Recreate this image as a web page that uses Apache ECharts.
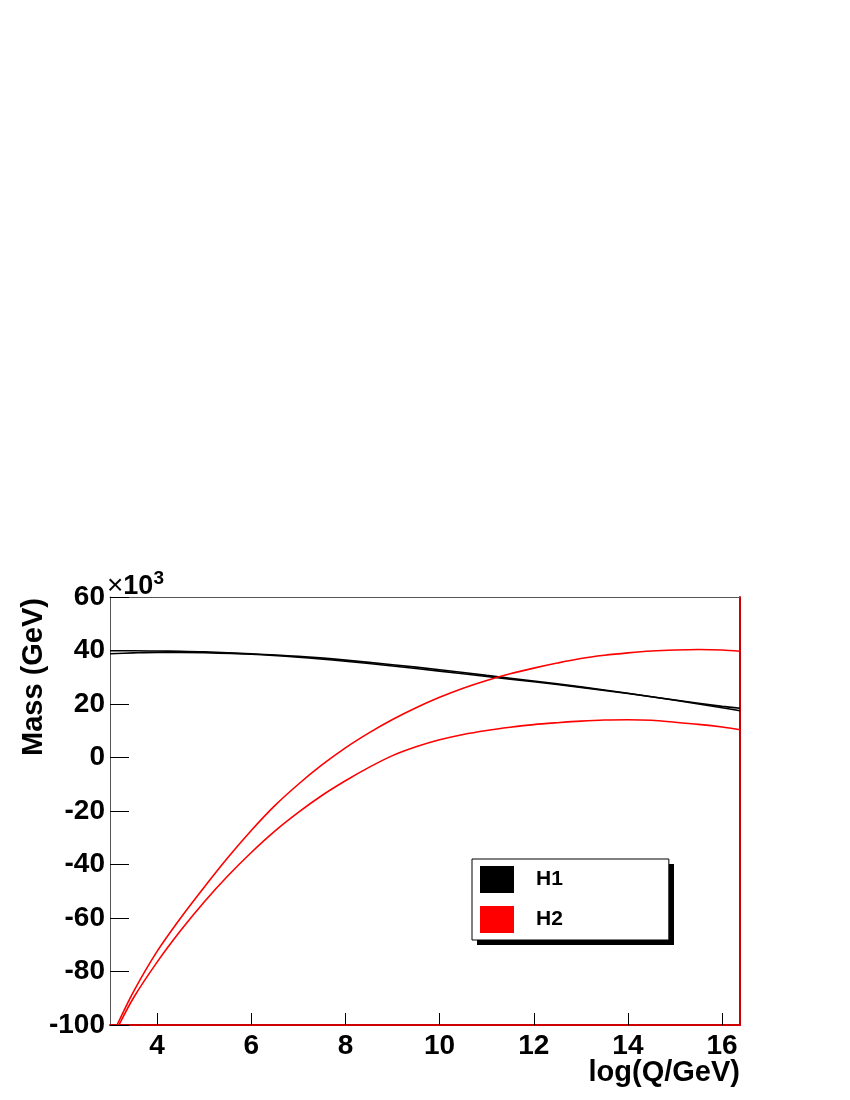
<!DOCTYPE html>
<html lang="en">

<head>
    <meta charset="UTF-8">
    <script src="https://cdn.jsdelivr.net/npm/echarts@6/dist/echarts.min.js"></script>
    <title>Mass vs log(Q/GeV)</title>
    <style>
        html,
        body {
            margin: 0;
            width: 100%;
            height: 100%;
            background: #fff;
        }
    </style>
</head>

<body>
    <div id="chart" style="width: 850px;height: 1100px;"></div>
    <script>
        // values, in units of 10^3 GeV
        var h1a = [[3.0, 39.9], [3.5, 39.9], [4, 39.8], [4.5, 39.7], [5, 39.5], [6, 38.8], [7, 37.8], [8, 36.4],
            [9, 34.7], [10, 32.8], [11, 30.7], [12, 28.6], [13, 26.4], [14, 24.0], [15, 21.4], [16, 18.6], [16.38, 17.5]];
        var h1b = [[3.0, 38.8], [3.5, 39.1], [4, 39.3], [4.5, 39.3], [5, 39.2], [6, 38.6], [7, 37.5], [8, 36.0],
            [9, 34.2], [10, 32.3], [11, 30.3], [12, 28.3], [13, 26.2], [14, 23.9], [15, 21.5], [16, 19.1], [16.38, 18.4]];
        var h2a = [[3.15, -100], [3.5, -87.5], [4.0, -72.5], [4.5, -60], [5.0, -48.5], [5.5, -37.5], [6.0, -27.3],
            [6.5, -18.0], [7.0, -10.0], [7.5, -2.8], [8.0, 3.6], [8.5, 9.2], [9.0, 14.2], [9.5, 18.6], [10.0, 22.5],
            [10.5, 25.9], [11.0, 28.8], [11.5, 31.3], [12.0, 33.4], [12.5, 35.3], [13.0, 37.0], [13.5, 38.2],
            [14.0, 39.1], [14.5, 39.8], [15.0, 40.2], [15.5, 40.4], [16.0, 40.2], [16.38, 39.7]];
        var h2b = [[3.19, -100], [3.5, -89.8], [4.0, -76.5], [4.5, -64.7], [5.0, -54], [5.5, -44.3], [6.0, -35.5],
            [6.5, -27.5], [7.0, -20.5], [7.5, -14.2], [8.0, -8.7], [8.5, -3.7], [9.0, 0.7], [9.5, 4.0], [10.0, 6.6],
            [10.5, 8.6], [11.0, 10.1], [11.5, 11.3], [12.0, 12.3], [12.5, 13.0], [13.0, 13.6], [13.5, 14.0],
            [14.0, 14.1], [14.5, 13.9], [15.0, 13.2], [15.5, 12.4], [16.0, 11.4], [16.38, 10.4]];
        var xTicks = [4, 6, 8, 10, 12, 14, 16];
        var seriesNames = ['H1', 'H2'];

        var chart = echarts.init(document.getElementById('chart'));
        var font = '"Liberation Sans", Arial, sans-serif';

        function line(name, data, color) {
            return {
                type: 'line',
                name: name,
                data: data,
                smooth: 0.3,
                showSymbol: false,
                symbol: 'none',
                lineStyle: { color: color, width: 1.6 },
                itemStyle: { color: color },
                z: 3
            };
        }

        chart.setOption({
            animation: false,
            grid: { left: 110, right: 110, top: 597, bottom: 75, containLabel: false },
            xAxis: [{
                type: 'value',
                min: 3,
                max: 16.38,
                axisLine: { onZero: false, lineStyle: { color: '#cc0000', width: 2 } },
                axisTick: { inside: true, length: 12, customValues: xTicks, lineStyle: { color: '#000', width: 1 } },
                axisLabel: {
                    customValues: xTicks, margin: 7,
                    fontFamily: font, fontWeight: 'bold', fontSize: 28, color: '#000'
                },
                splitLine: { show: false }
            }, {
                type: 'value',
                position: 'top',
                min: 3,
                max: 16.38,
                axisLine: { show: true, onZero: false, lineStyle: { color: '#555', width: 1 } },
                axisTick: { show: false },
                axisLabel: { show: false },
                splitLine: { show: false }
            }],
            yAxis: [{
                type: 'value',
                min: -100,
                max: 60,
                interval: 20,
                axisLine: { show: true, onZero: false, lineStyle: { color: '#555', width: 1 } },
                axisTick: { inside: true, length: 19, lineStyle: { color: '#000', width: 1 } },
                axisLabel: {
                    margin: 5,
                    fontFamily: font, fontWeight: 'bold', fontSize: 28, color: '#000'
                },
                splitLine: { show: false }
            }, {
                type: 'value',
                position: 'right',
                min: -100,
                max: 60,
                axisLine: { show: true, onZero: false, lineStyle: { color: '#cc0000', width: 2 } },
                axisTick: { show: false },
                axisLabel: { show: false },
                splitLine: { show: false }
            }],
            legend: {
                data: seriesNames,
                orient: 'vertical',
                left: 472,
                top: 859,
                z: 10,
                padding: [7, 106, 7, 8],
                itemGap: 13,
                itemWidth: 34,
                itemHeight: 27,
                icon: 'rect',
                backgroundColor: '#fff',
                borderColor: '#000',
                borderWidth: 1,
                textStyle: {
                    fontFamily: font, fontWeight: 'bold', fontSize: 21, color: '#000',
                    padding: [0, 0, 0, 17]
                }
            },
            graphic: [{
                type: 'rect',
                z: 1,
                shape: { x: 477, y: 864, width: 197, height: 81 },
                style: { fill: '#000' }
            }, {
                type: 'text',
                left: 107,
                top: 569,
                style: {
                    text: '{x|×}{a|10}{b|3}',
                    rich: {
                        x: { fontFamily: font, fontSize: 28, fill: '#000', verticalAlign: 'bottom' },
                        a: { fontFamily: font, fontWeight: 'bold', fontSize: 27, fill: '#000', verticalAlign: 'bottom' },
                        b: { fontFamily: font, fontWeight: 'bold', fontSize: 19, fill: '#000', verticalAlign: 'top', padding: [0, 0, 12, 0] }
                    }
                }
            }, {
                type: 'text',
                right: 110,
                top: 1058,
                style: {
                    text: 'log(Q/GeV)',
                    fontFamily: font, fontWeight: 'bold', fontSize: 29, fill: '#000'
                }
            }, {
                type: 'text',
                x: 34,
                y: 677,
                rotation: Math.PI / 2,
                style: {
                    text: 'Mass (GeV)',
                    fontFamily: font, fontWeight: 'bold', fontSize: 29, fill: '#000',
                    align: 'center', verticalAlign: 'middle'
                }
            }],
            series: [
                line('H1', h1a, '#000'),
                line('H1', h1b, '#000'),
                line('H2', h2a, '#ff0000'),
                line('H2', h2b, '#ff0000')
            ]
        });
    </script>
</body>

</html>
